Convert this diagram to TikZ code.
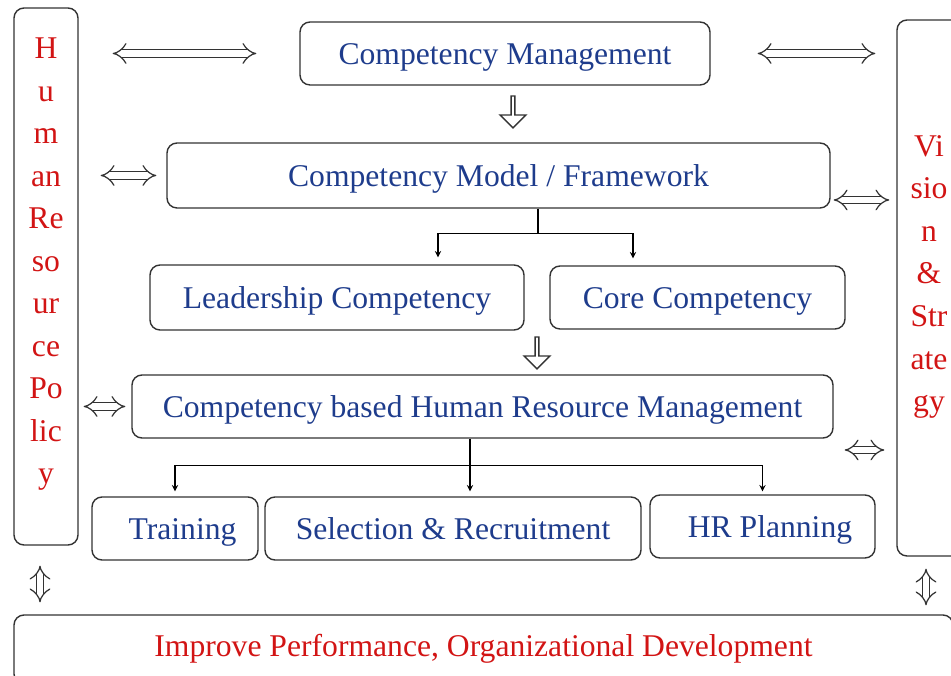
\documentclass[tikz,border=0pt]{standalone}
\usepackage{fontspec}
\setmainfont{Liberation Serif}
\usetikzlibrary{shapes.geometric, shapes.arrows, arrows, arrows.meta}
\definecolor{textblue}{RGB}{30,60,140}
\definecolor{textred}{RGB}{210,20,20}
\tikzstyle{frame} = [rectangle, rounded corners=0.2cm, draw=black!80, line width=0.8pt]
\tikzstyle{box} = [frame, text centered, text=textblue, text height=16pt, text depth=4pt, font=\fontsize{18}{22}\selectfont]
\tikzstyle{side} = [frame, text=textred, align=center, font=\fontsize{18}{24.2}\selectfont, text depth=0.62cm]
\tikzstyle{arrow} = [semithick,->,>=stealth]
\tikzstyle{link} = [draw=black!80, double, double distance=3.5pt, line width=0.7pt, {Implies[width=10pt,length=4pt]}-{Implies[width=10pt,length=4pt]}]
\tikzstyle{fatarrow} = [single arrow, draw=black!80, line width=0.8pt, inner sep=0pt, minimum height=0.64cm, minimum width=0.52cm, single arrow head extend=0.08cm, shape border rotate=270]

\begin{document}
\begin{tikzpicture}[node distance=2.44cm]
  \useasboundingbox (0,0) rectangle (19.02,13.52);
  \node (hrp) [side, minimum width=1.28cm, minimum height=10.74cm] at (0.92,7.99) {H\\u\\m\\an\\Re\\so\\ur\\ce\\Po\\lic\\y};
  \node (vision) [side, minimum width=1.28cm, minimum height=10.72cm, text depth=0.58cm] at (18.58,7.76) {Vi\\sio\\n\\\&\\Str\\ate\\gy};
  \node (goal) [box, text=textred, text depth=8pt, minimum width=18.78cm, minimum height=1.38cm] at (9.67,0.53) {Improve Performance, Organizational Development};

  \node (cm) [box, minimum width=8.2cm, minimum height=1.26cm] at (10.10,12.45) {Competency Management};
  \node (cmf) [box, below of=cm, xshift=-0.13cm, minimum width=13.26cm, minimum height=1.3cm] {Competency Model / Framework};
  \node (lead) [box, below of=cmf, xshift=-3.23cm, minimum width=7.48cm, minimum height=1.3cm] {Leadership Competency};
  \node (core) [box, right of=lead, xshift=4.77cm, minimum width=5.9cm, minimum height=1.26cm] {Core Competency};
  \node (cbhrm) [box, below of=lead, xshift=2.91cm, yshift=0.26cm, minimum width=14.02cm, minimum height=1.26cm] {Competency based Human Resource Management};
  \node (train) [box, below of=cbhrm, xshift=-6.15cm, minimum width=3.32cm, minimum height=1.26cm] {\hspace{0.3cm}Training};
  \node (sel) [box, right of=train, xshift=3.12cm, minimum width=7.52cm, minimum height=1.26cm] {Selection \& Recruitment};
  \node (hrplan) [box, right of=sel, xshift=3.75cm, yshift=0.04cm, minimum width=4.5cm, minimum height=1.26cm] {\hspace{0.3cm}HR Planning};

  \node (down1) [fatarrow, node distance=1.15cm, below of=cm, xshift=0.16cm] {};
  \node (down2) [fatarrow, node distance=1.09cm, below of=lead, xshift=4cm] {};

  \coordinate (r1) at ([yshift=-0.49cm]cmf.east);
  \coordinate (r2) at ([yshift=-0.87cm]cbhrm.east);
  \coordinate (l1) at ([xshift=-0.12cm]hrp.south);
  \coordinate (l2) at ([xshift=-0.06cm]vision.south);

  \draw [link, shorten <=0.68cm, shorten >=0.86cm] (hrp.east |- cm.west) -- (cm.west);
  \draw [link, shorten <=0.94cm, shorten >=0.42cm] (cm.east) -- (cm.east -| vision.west);
  \draw [link, shorten <=0.44cm, shorten >=0.2cm] (hrp.east |- cmf.west) -- (cmf.west);
  \draw [link, shorten <=0.06cm, shorten >=0.14cm] (r1) -- (r1 -| vision.west);
  \draw [link, shorten <=0.1cm, shorten >=0.12cm] (hrp.east |- cbhrm.west) -- (cbhrm.west);
  \draw [link, shorten <=0.22cm, shorten >=0.24cm] (r2) -- (r2 -| vision.west);
  \draw [link, shorten <=0.4cm, shorten >=0.24cm] (l1) -- (l1 |- goal.north);
  \draw [link, shorten <=0.24cm, shorten >=0.18cm] (l2) -- (l2 |- goal.north);

  \draw [semithick] ([xshift=0.79cm]cmf.south) -- ++(0,-0.5) coordinate (j1);
  \draw [arrow, shorten >=0.14cm] (j1) -| ([xshift=2.02cm]lead.north);
  \draw [arrow, shorten >=0.14cm] (j1) -| ([xshift=-1.29cm]core.north);

  \draw [semithick] ([xshift=-0.25cm]cbhrm.south) -- ++(0,-0.54) coordinate (j2);
  \draw [arrow, shorten >=0.1cm] (j2) -| (train.north);
  \draw [arrow, shorten >=0.1cm] (j2) -- (j2 |- sel.north);
  \draw [arrow, shorten >=0.06cm] (j2) -| (hrplan.north);
\end{tikzpicture}
\end{document}
